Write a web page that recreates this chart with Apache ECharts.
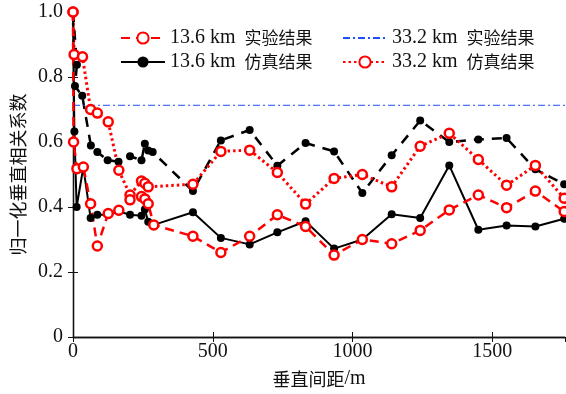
<!DOCTYPE html>
<html><head><meta charset="utf-8">
<script src="https://cdn.jsdelivr.net/npm/echarts@6/dist/echarts.min.js"></script>
<style>html,body{margin:0;padding:0;background:#fff}#c{width:566px;height:394px}</style>
</head><body><div id="c"></div>
<script>
const LATIN = "'Liberation Serif', 'Times New Roman', serif";
const CJK = "'Noto Sans CJK SC', sans-serif";

// legend names
const nameExp136 = '13.6 km 实验结果';
const nameSim136 = '13.6 km 仿真结果';
const nameExp332 = '33.2 km 实验结果';
const nameSim332 = '33.2 km 仿真结果';

// axis settings
const xMax = 1760;
const xTickStep = 500;
const yTickStep = 0.2;

// 13.6 km experiment (red dashed, open circles)
const exp136X = [0, 2, 14, 37, 63, 87, 126, 164, 204, 245, 257, 269, 289, 429, 529, 632, 731, 832, 934, 1035, 1140, 1242, 1346, 1450, 1551, 1654, 1757];
const exp136Y = [1.0, 0.60, 0.518, 0.523, 0.41, 0.28, 0.38, 0.39, 0.422, 0.432, 0.425, 0.41, 0.345, 0.31, 0.26, 0.31, 0.376, 0.34, 0.252, 0.30, 0.287, 0.328, 0.391, 0.437, 0.398, 0.449, 0.386];

// 13.6 km simulation (black solid, filled dots)
const sim136X = [0, 5, 13, 37, 63, 87, 126, 164, 204, 245, 257, 269, 289, 429, 529, 632, 731, 832, 934, 1035, 1140, 1242, 1346, 1450, 1551, 1654, 1757];
const sim136Y = [1.0, 0.632, 0.40, 0.523, 0.366, 0.376, 0.376, 0.386, 0.376, 0.373, 0.392, 0.355, 0.345, 0.384, 0.305, 0.285, 0.322, 0.356, 0.272, 0.30, 0.378, 0.366, 0.528, 0.33, 0.343, 0.34, 0.364];

// 33.2 km experiment (blue dash-dot level)
const exp332X = [0, 1760];
const exp332Y = [0.713, 0.713];

// 33.2 km simulation (red dotted, open circles)
const sim332X = [0, 4, 34, 63, 87, 126, 164, 204, 245, 257, 269, 429, 529, 632, 731, 832, 934, 1035, 1140, 1242, 1346, 1450, 1551, 1654, 1757];
const sim332Y = [1.0, 0.869, 0.862, 0.70, 0.689, 0.662, 0.513, 0.437, 0.48, 0.473, 0.462, 0.47, 0.571, 0.575, 0.506, 0.409, 0.488, 0.50, 0.462, 0.587, 0.627, 0.546, 0.467, 0.528, 0.427];

// additional black dashed curve (not in legend)
const extraX = [0, 14, 7, 33, 64, 87, 124, 163, 204, 245, 257, 269, 285, 429, 529, 632, 731, 832, 934, 1035, 1140, 1242, 1346, 1450, 1551, 1654, 1757];
const extraY = [1.0, 0.838, 0.772, 0.742, 0.589, 0.569, 0.544, 0.539, 0.556, 0.544, 0.595, 0.574, 0.569, 0.449, 0.605, 0.637, 0.527, 0.597, 0.571, 0.443, 0.559, 0.666, 0.600, 0.608, 0.612, 0.516, 0.470];

function pairs(xs, ys) { return xs.map((x, i) => [x, ys[i]]); }

const rich = {
  l: { fontFamily: LATIN, fontSize: 20, lineHeight: 20, color: '#111' },
  c: { fontFamily: CJK, fontSize: 17, lineHeight: 20, color: '#111', padding: [0, 0, 0, 9] }
};
function legendFmt(name) {
  const parts = name.split(' ');
  return '{l|' + parts[0] + ' ' + parts[1] + '}{c|' + parts[2] + '}';
}
const legendBase = {
  orient: 'vertical', top: 28, padding: 0, itemWidth: 44, itemHeight: 14, itemGap: 4,
  formatter: legendFmt, textStyle: { rich: rich }, selectedMode: false
};

const red = '#ff0000';
const axisLineStyle = { color: '#111', width: 1.3 };
const option = {
  animation: false,
  backgroundColor: '#fff',
  grid: { left: 73, right: 1, top: 12, bottom: 53 },
  legend: [
    Object.assign({}, legendBase, { left: 120, data: [nameExp136, nameSim136] }),
    Object.assign({}, legendBase, { left: 342, data: [
      { name: nameExp332, itemStyle: { opacity: 0 } }, nameSim332] })
  ],
  xAxis: [{
    type: 'value', min: 0, max: xMax, interval: xTickStep, position: 'bottom',
    axisLine: { lineStyle: axisLineStyle },
    axisTick: { inside: true, length: 5, lineStyle: { color: '#111' } },
    axisLabel: { fontFamily: LATIN, fontSize: 20, color: '#111', margin: 5, showMaxLabel: false,
      formatter: v => String(v) },
    splitLine: { show: false },
    name: '{c|垂直间距}{l|/m}', nameLocation: 'middle', nameGap: 32,
    nameTextStyle: { rich: {
      c: { fontFamily: CJK, fontSize: 18, color: '#111' },
      l: { fontFamily: LATIN, fontSize: 20, color: '#111' } } }
  }, {
    type: 'value', min: 0, max: xMax, interval: xTickStep, position: 'top',
    axisLine: { lineStyle: axisLineStyle },
    axisTick: { inside: true, length: 5, lineStyle: { color: '#111' } },
    axisLabel: { show: false }, splitLine: { show: false }
  }],
  yAxis: [{
    type: 'value', min: 0, max: 1, interval: yTickStep, position: 'left',
    axisLine: { show: true, lineStyle: axisLineStyle },
    axisTick: { show: true, inside: true, length: 5, lineStyle: { color: '#111' } },
    axisLabel: { fontFamily: LATIN, fontSize: 20, color: '#111', margin: 10,
      formatter: v => v === 0 ? '0' : v.toFixed(1) },
    splitLine: { show: false },
    name: '归一化垂直相关系数', nameLocation: 'middle', nameRotate: 90, nameGap: 38,
    nameTextStyle: { fontFamily: CJK, fontSize: 18, color: '#111' }
  }, {
    type: 'value', min: 0, max: 1, interval: yTickStep, position: 'right',
    axisLine: { show: true, lineStyle: axisLineStyle },
    axisTick: { show: true, inside: true, length: 5, lineStyle: { color: '#111' } },
    axisLabel: { show: false }, splitLine: { show: false }
  }],
  series: [
    { name: 'extra', type: 'line', data: pairs(extraX, extraY), symbol: 'circle', symbolSize: 8,
      itemStyle: { color: '#000' }, lineStyle: { color: '#000', width: 2.5, type: [10, 8] } },
    { name: nameSim332, type: 'line', data: pairs(sim332X, sim332Y), symbol: 'circle', symbolSize: 9,
      itemStyle: { color: '#fff', borderColor: red, borderWidth: 2.5 },
      lineStyle: { color: red, width: 3, type: [2.5, 3] } },
    { name: nameExp332, type: 'line', data: pairs(exp332X, exp332Y), symbol: 'none', showSymbol: false,
      itemStyle: { color: '#1f4fff' }, lineStyle: { color: '#1f4fff', width: 1, type: [7, 3, 2, 3] } },
    { name: nameSim136, type: 'line', data: pairs(sim136X, sim136Y), symbol: 'circle', symbolSize: 8,
      itemStyle: { color: '#000' }, lineStyle: { color: '#000', width: 2 } },
    { name: nameExp136, type: 'line', data: pairs(exp136X, exp136Y), symbol: 'circle', symbolSize: 9,
      itemStyle: { color: '#fff', borderColor: red, borderWidth: 2.5 },
      lineStyle: { color: red, width: 2.5, type: [9, 6] } }
  ]
};
const chart = echarts.init(document.getElementById('c'), null, { renderer: 'canvas' });
chart.setOption(option);
</script>
</body></html>
